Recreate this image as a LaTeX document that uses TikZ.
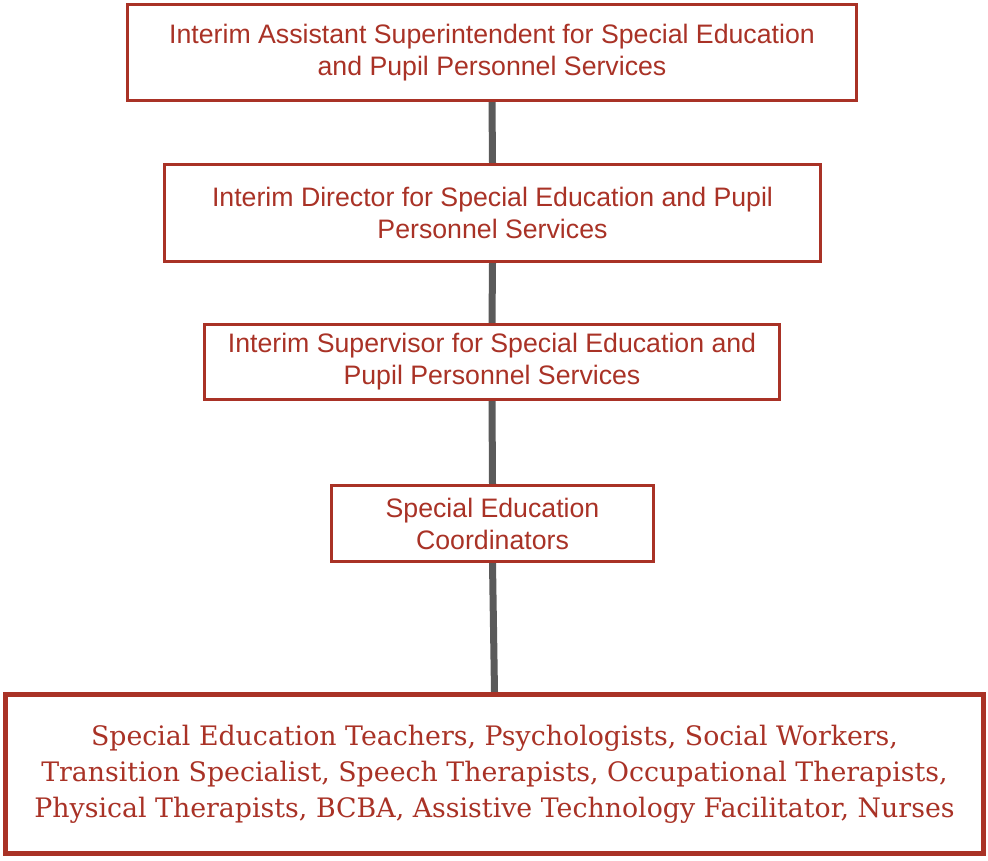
\documentclass[tikz,border=0pt]{standalone}
\usepackage{fontspec}
\setmainfont{DejaVu Serif}
\setsansfont{Liberation Sans}
\usetikzlibrary{backgrounds}
\definecolor{brick}{RGB}{169,50,38}
\definecolor{linkgray}{RGB}{90,90,90}

\begin{document}
\begin{tikzpicture}[x=1pt, y=-1pt,
  role/.style={draw=brick, line width=3pt, fill=white, text=brick, align=center, inner sep=0pt,
    font=\sffamily\fontsize{26.7}{32}\selectfont},
  staff/.style={draw=brick, line width=5pt, fill=white, text=brick, align=center, inner sep=0pt,
    font=\rmfamily\fontsize{26.8}{36}\selectfont},
  link/.style={draw=linkgray, line width=7pt}]
\useasboundingbox (0,0) rectangle (988,860);
\node[role, minimum width=729pt, minimum height=96pt] (asst) at (492,52.5) {Interim Assistant Superintendent for Special Education\\and Pupil Personnel Services};
\node[role, minimum width=656pt, minimum height=97pt] (dir) at (492.5,213) {Interim Director for Special Education and Pupil\\Personnel Services};
\node[role, minimum width=575pt, minimum height=75pt] (sup) at (492,362) {Interim Supervisor for Special Education and\\Pupil Personnel Services};
\node[role, minimum width=322pt, minimum height=76pt] (coord) at (492.5,523.5) {Special Education\\Coordinators};
\node[staff, minimum width=978pt, minimum height=159pt] (staff) at (494.5,774) {Special Education Teachers, Psychologists, Social Workers,\\Transition Specialist, Speech Therapists, Occupational Therapists,\\Physical Therapists, BCBA, Assistive Technology Facilitator, Nurses};
\begin{scope}[on background layer]
\draw[link] (asst.south) -- (dir.north);
\draw[link] (dir.south) -- (sup.north);
\draw[link] (sup.south) -- (coord.north);
\draw[link] (coord.south) -- (staff.north);
\end{scope}
\end{tikzpicture}
\end{document}
